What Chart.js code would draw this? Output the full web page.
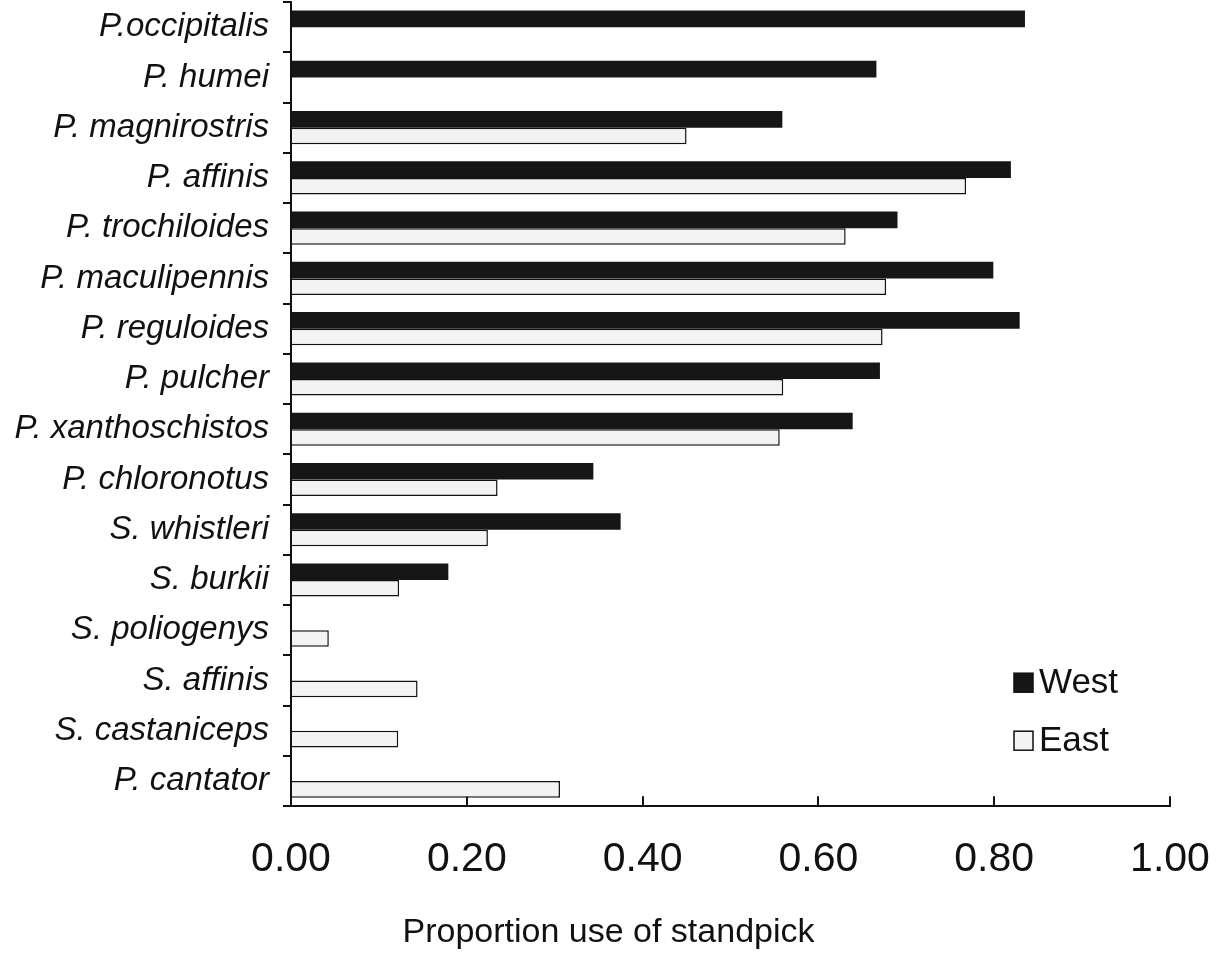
<!DOCTYPE html>
<html>
<head>
<meta charset="utf-8">
<script src="https://cdn.jsdelivr.net/npm/chart.js@4"></script>
<style>
  body { margin: 0; background: #fff; }
  canvas { display: block; }
</style>
</head>
<body>
<canvas id="chart" width="1217" height="955"></canvas>
<script>
const categories = [
    "P.occipitalis", "P. humei", "P. magnirostris", "P. affinis", "P. trochiloides",
    "P. maculipennis", "P. reguloides", "P. pulcher", "P. xanthoschistos", "P. chloronotus",
    "S. whistleri", "S. burkii", "S. poliogenys", "S. affinis", "S. castaniceps", "P. cantator"
];
const westValues = [0.835, 0.666, 0.559, 0.819, 0.69, 0.799, 0.829, 0.67, 0.639, 0.344, 0.375, 0.179, null, null, null, null];
const eastValues = [null, null, 0.45, 0.768, 0.631, 0.677, 0.673, 0.56, 0.556, 0.235, 0.224, 0.123, 0.043, 0.144, 0.122, 0.306];
const xTicks = [0, 0.2, 0.4, 0.6, 0.8, 1.0];

// legend sits inside the plot, lower right
const insideLegend = {
    id: "insideLegend",
    afterDraw(chart) {
        const ctx = chart.ctx;
        const area = chart.chartArea;
        const x = area.right - 156;
        let y = area.bottom - 133;
        ctx.save();
        chart.data.datasets.forEach(ds => {
            ctx.fillStyle = ds.backgroundColor;
            ctx.fillRect(x, y, 19, 19);
            ctx.strokeStyle = "#111";
            ctx.lineWidth = 1.5;
            ctx.strokeRect(x, y, 19, 19);
            ctx.fillStyle = "#111";
            ctx.font = "35px 'Liberation Sans', Arial, sans-serif";
            ctx.textBaseline = "middle";
            ctx.fillText(ds.label, x + 25, y + 10);
            y += 58;
        });
        ctx.restore();
    }
};

new Chart(document.getElementById("chart"), {
    type: "bar",
    data: {
        labels: categories,
        datasets: [
            {
                label: "West",
                data: westValues,
                backgroundColor: "#161616",
                borderColor: "#161616",
                borderWidth: 0
            },
            {
                label: "East",
                data: eastValues,
                backgroundColor: "#f3f3f3",
                borderColor: "#111",
                borderWidth: 1.5
            }
        ]
    },
    options: {
        indexAxis: "y",
        responsive: false,
        animation: false,
        barPercentage: 1.0,
        categoryPercentage: 0.66,
        layout: { padding: { top: 2, right: 0, left: 0, bottom: 0 } },
        plugins: {
            legend: { display: false },
            tooltip: { enabled: false },
            title: {
                display: true,
                position: "bottom",
                text: "Proportion use of standpick",
                color: "#111",
                font: { family: "'Liberation Sans', Arial, sans-serif", size: 34, weight: "normal" },
                padding: { top: 0, bottom: 2 }
            }
        },
        scales: {
            x: {
                min: 0,
                max: 1,
                afterBuildTicks: scale => { scale.ticks = xTicks.map(v => ({ value: v })); },
                afterFit: scale => {
                    scale.height = 106;
                    scale.paddingLeft = 0;
                    scale.paddingRight = 47;
                },
                grid: { drawOnChartArea: false, drawTicks: true, tickLength: -10, color: "#111", lineWidth: 2 },
                border: { display: true, color: "#111", width: 2 },
                ticks: {
                    color: "#111",
                    padding: 39,
                    font: { family: "'Liberation Sans', Arial, sans-serif", size: 41 },
                    callback: v => Number(v).toFixed(2)
                }
            },
            y: {
                afterFit: scale => {
                    scale.width = 291;
                    scale.paddingTop = 0;
                    scale.paddingBottom = 0;
                },
                grid: { drawOnChartArea: false, offset: true, tickLength: 8, color: "#111", lineWidth: 2 },
                border: { display: true, color: "#111", width: 2 },
                ticks: {
                    color: "#111",
                    padding: 14,
                    font: { family: "'Liberation Sans', Arial, sans-serif", size: 33, style: "italic" }
                }
            }
        }
    },
    plugins: [insideLegend]
});
</script>
</body>
</html>
